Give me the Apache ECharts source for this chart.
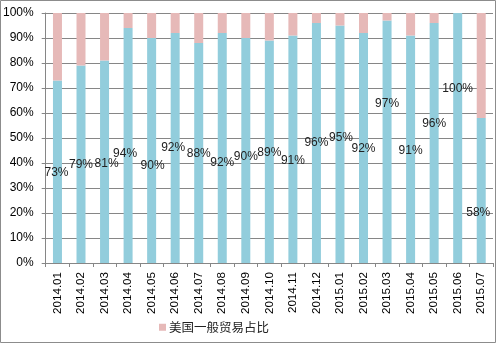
<!DOCTYPE html>
<html>
<head>
<meta charset="utf-8">
<script src="https://cdn.jsdelivr.net/npm/echarts@6/dist/echarts.min.js"></script>
<style>
html,body{margin:0;padding:0;background:#fff;}
#c{width:497px;height:345px;}
</style>
</head>
<body>
<div id="c"></div>
<script>
var categories = ['2014.01','2014.02','2014.03','2014.04','2014.05','2014.06','2014.07','2014.08','2014.09','2014.10','2014.11','2014.12','2015.01','2015.02','2015.03','2015.04','2015.05','2015.06','2015.07'];
var usShare = [73,79,81,94,90,92,88,92,90,89,91,96,95,92,97,91,96,100,58];
var otherShare = usShare.map(function(v){ return 100 - v; });
var yTicks = [0,10,20,30,40,50,60,70,80,90,100];
// label placement tweaks (px) relative to segment centre
var labelDx = [-1,0,2,-3,1,-2,0,0,0,0,0,0,1,0,0,0,0,0,-3];
var labelDy = [1,0,1.5,8.5,15,0,1,15,6,1,11,0,-7,1,-38,1,-19,-49,22];

var chart = echarts.init(document.getElementById('c'), null, {renderer:'canvas'});
var font = 'Liberation Sans, Arial, sans-serif';
var blueData = usShare.map(function(v,i){
  return {value:v, label:{offset:[labelDx[i], labelDy[i]]}};
});
chart.setOption({
  animation:false,
  backgroundColor:'#fff',
  graphic:[{type:'rect',shape:{x:0.5,y:0.5,width:495,height:342},style:{fill:'none',stroke:'#8c8c8c',lineWidth:1},silent:true}],
  grid:{left:44.5,right:4,top:13,bottom:82,containLabel:false},
  legend:{
    data:['美国一般贸易占比'],
    left:154, top:316,
    itemWidth:7, itemHeight:7, itemGap:4,
    icon:'rect',
    textStyle:{fontFamily:'Noto Sans CJK SC, sans-serif',fontSize:12.5,color:'#222',padding:[0,0,0,-2]}
  },
  xAxis:{
    type:'category',
    data:categories,
    axisLine:{lineStyle:{color:'#868686'}},
    axisTick:{show:true,length:4,lineStyle:{color:'#868686'}},
    axisLabel:{rotate:90,fontSize:11.6,fontFamily:font,color:'#000',margin:9,interval:0}
  },
  yAxis:{
    type:'value',min:0,max:100,interval:10,
    axisLine:{show:true,lineStyle:{color:'#868686'}},
    axisTick:{show:true,inside:false,length:4,lineStyle:{color:'#868686'}},
    splitLine:{lineStyle:{color:'#868686'}},
    axisLabel:{formatter:function(v){return yTicks.indexOf(v)>=0? v+'%':'';},fontSize:12,fontFamily:font,color:'#000',margin:12}
  },
  series:[
    {name:'一般贸易占比',type:'bar',stack:'s',barWidth:9,data:blueData,
     itemStyle:{color:'#92CDDC'},
     label:{show:true,position:'inside',formatter:'{c}%',fontSize:12,fontFamily:font,color:'#222'}},
    {name:'美国一般贸易占比',type:'bar',stack:'s',barWidth:9,data:otherShare,
     itemStyle:{color:'#E6B9B8'}}
  ]
});
</script>
</body>
</html>
